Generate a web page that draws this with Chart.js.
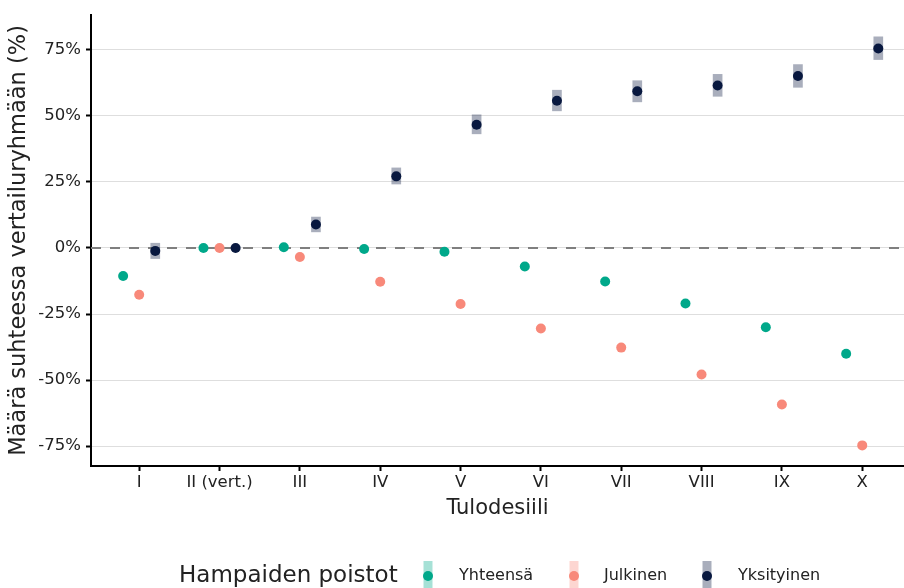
<!DOCTYPE html>
<html>
<head>
<meta charset="utf-8">
<script src="https://cdn.jsdelivr.net/npm/chart.js@4/dist/chart.umd.min.js"></script>
<style>
  html, body { margin: 0; padding: 0; background: #fff; overflow: hidden; }
  #wrap { width: 909px; height: 588px; }
</style>
</head>
<body>
<div id="wrap"><canvas id="chart"></canvas></div>
<script>
// desiilit
const deciles = ['I', 'II (vert.)', 'III', 'IV', 'V', 'VI', 'VII', 'VIII', 'IX', 'X'];
const yTicks = [-75, -50, -25, 0, 25, 50, 75];

// % ero vertailuryhmään
const yhteensa = [-10.6, 0, 0.3, -0.4, -1.4, -7.0, -12.7, -21.0, -30.0, -40.0];
const julkinen = [-17.7, 0, -3.4, -12.8, -21.2, -30.5, -37.7, -47.9, -59.2, -74.7];
const yksityinen = [-1.1, 0, 8.9, 27.1, 46.6, 55.7, 59.3, 61.5, 65.1, 75.5];
const yksLow = [-4.0, null, 6.1, 24.2, 43.2, 51.9, 55.3, 57.4, 60.8, 71.3];
const yksHigh = [1.8, null, 11.7, 30.3, 50.4, 59.7, 63.3, 65.7, 69.4, 79.9];

const seriesNames = ['Yhteensä', 'Julkinen', 'Yksityinen'];
const colTeal = '#00A88A';
const colSalmon = '#F8897A';
const colNavy = '#08183F';
const FONT = '"DejaVu Sans", sans-serif';
const TXT = '#222';

const xMin = 0.4, xMax = 10.52;
const dodge = 0.2;
const pts = (arr, off) => arr.map((v, i) => ({ x: i + 1 + off, y: v }));
const errs = yksLow.map((lo, i) => lo === null ? null : ({ x: i + 1 + dodge, y: [lo, yksHigh[i]] })).filter(d => d);

const legendPlugin = {
  id: 'ggLegend',
  afterDraw(chart) {
    const ctx = chart.ctx;
    const cy = 576;
    ctx.save();
    ctx.textBaseline = 'middle';
    ctx.fillStyle = TXT;
    ctx.font = '23px ' + FONT;
    ctx.fillText('Hampaiden poistot', 179, cy);
    const keys = [
      { x: 428, tx: 459, c: colTeal, band: 'rgba(0,168,138,0.35)' },
      { x: 574, tx: 604, c: colSalmon, band: 'rgba(248,137,122,0.35)' },
      { x: 707, tx: 738, c: colNavy, band: 'rgba(8,24,63,0.35)' }
    ];
    keys.forEach((k, i) => {
      ctx.fillStyle = k.band;
      ctx.fillRect(k.x - 4.5, 561, 9, 30);
      ctx.fillStyle = k.c;
      ctx.beginPath();
      ctx.arc(k.x, cy, 5, 0, Math.PI * 2);
      ctx.fill();
      ctx.fillStyle = TXT;
      ctx.font = '16px ' + FONT;
      ctx.fillText(seriesNames[i], k.tx, cy);
    });
    ctx.restore();
  }
};

new Chart(document.getElementById('chart'), {
  type: 'scatter',
  data: {
    datasets: [
      {
        type: 'bar',
        label: 'Yksityinen (luottamusväli)',
        data: errs,
        backgroundColor: 'rgba(8,24,63,0.35)',
        borderWidth: 0,
        barThickness: 9,
        grouped: false,
        order: 4
      },
      {
        type: 'line',
        label: 'nolla',
        data: [{ x: xMin, y: 0 }, { x: xMax, y: 0 }],
        borderColor: '#7f7f7f',
        borderWidth: 2,
        borderDash: [10, 9],
        pointRadius: 0,
        order: 3
      },
      {
        label: seriesNames[0],
        data: pts(yhteensa, -dodge),
        backgroundColor: colTeal,
        borderWidth: 0,
        pointRadius: 5,
        order: 2
      },
      {
        label: seriesNames[1],
        data: pts(julkinen, 0),
        backgroundColor: colSalmon,
        borderWidth: 0,
        pointRadius: 5,
        order: 1
      },
      {
        label: seriesNames[2],
        data: pts(yksityinen, dodge),
        backgroundColor: colNavy,
        borderWidth: 0,
        pointRadius: 5,
        order: 0
      }
    ]
  },
  options: {
    responsive: true,
    maintainAspectRatio: false,
    animation: false,
    layout: { padding: { top: 14, right: 0, bottom: 66, left: 0 } },
    plugins: {
      legend: { display: false },
      tooltip: { enabled: false }
    },
    scales: {
      x: {
        type: 'linear',
        offset: false,
        min: xMin,
        max: xMax,
        afterBuildTicks: s => { s.ticks = deciles.map((d, i) => ({ value: i + 1 })); },
        afterFit: s => { s.height = 56; },
        ticks: {
          callback: v => deciles[v - 1],
          color: TXT,
          font: { family: FONT, size: 16.5 },
          padding: 2,
          maxRotation: 0,
          autoSkip: false
        },
        grid: {
          offset: false,
          drawOnChartArea: false,
          drawTicks: true,
          tickLength: 5,
          tickColor: '#000',
          tickWidth: 2
        },
        border: { display: true, color: '#000', width: 2 },
        title: {
          display: true,
          text: 'Tulodesiili',
          color: TXT,
          font: { family: FONT, size: 21 },
          padding: { top: 0, bottom: 1 }
        }
      },
      y: {
        min: -82.5,
        max: 88.2,
        afterBuildTicks: s => { s.ticks = yTicks.map(v => ({ value: v })); },
        afterFit: s => { s.width = 91; },
        ticks: {
          callback: v => v + '%',
          color: TXT,
          font: { family: FONT, size: 16.5 },
          padding: 5
        },
        grid: {
          color: '#dedede',
          lineWidth: 1,
          drawTicks: true,
          tickLength: 5,
          tickColor: '#000',
          tickWidth: 2
        },
        border: { display: true, color: '#000', width: 2 },
        title: {
          display: true,
          text: 'Määrä suhteessa vertailuryhmään (%)',
          color: TXT,
          font: { family: FONT, size: 22.5 },
          padding: { top: 6, bottom: 0 }
        }
      }
    }
  },
  plugins: [legendPlugin]
});
</script>
</body>
</html>
